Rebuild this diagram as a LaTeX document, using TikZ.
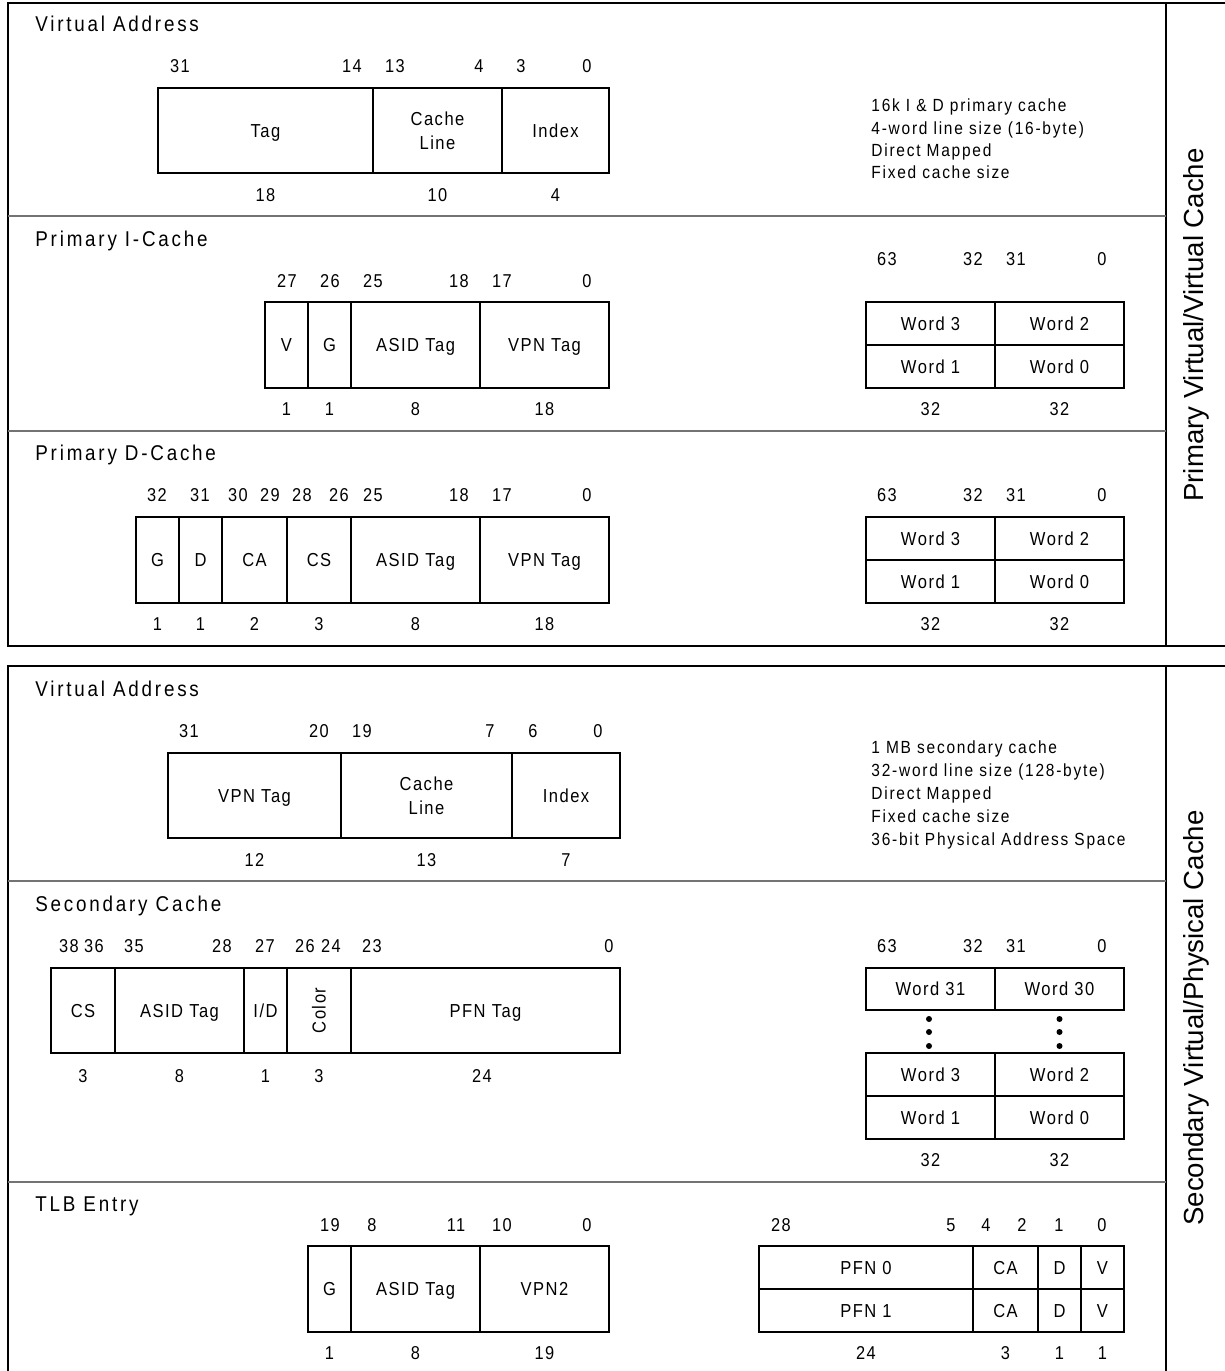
\documentclass[tikz,border=0pt]{standalone}
\usepackage{fontspec}
\setmainfont{Liberation Sans}[FakeStretch=0.88,LetterSpace=8]
\newfontfamily\titlefont{Liberation Sans}[FakeStretch=0.88,LetterSpace=13]
\newfontfamily\notefont{Liberation Sans}[FakeStretch=0.88,LetterSpace=10]
\newfontfamily\sidefont{Liberation Sans}
\newcommand\fld[7][]{%
  \draw[cell] (#3,#4) rectangle (#5,#6);
  \node[lbl,#1] (#2) at ({(#3+#5)/2},{(#4+#6)/2}) {#7};}
\newcommand\fldm[6]{%
  \draw[cell] (#2,#3) rectangle (#4,#5);
  \node[lblm] (#1) at ({(#2+#4)/2},{(#3+#5)/2}) {#6};}
\begin{document}
\begin{tikzpicture}[x=0.5pt,y=-0.5pt,
  cell/.style={draw=black,line width=0.65pt},
  frame/.style={draw=black,line width=0.8pt},
  divider/.style={draw=black!55,line width=1pt},
  lbl/.style={font=\fontsize{9.4}{12}\selectfont,inner sep=0pt,text height=6.73pt,text depth=0pt},
  lblm/.style={font=\fontsize{9.4}{12}\selectfont,inner sep=0pt,align=center},
  num/.style={font=\fontsize{9.3}{11}\selectfont,inner sep=0pt,text height=6.66pt,text depth=0pt},
  note/.style={font=\notefont\fontsize{8.8}{11}\selectfont,inner sep=0pt,anchor=west,text height=6.3pt,text depth=0pt},
  ttl/.style={font=\titlefont\fontsize{10.7}{13}\selectfont,inner sep=0pt,anchor=west,text height=7.66pt,text depth=0pt},
  side/.style={font=\sidefont\fontsize{13.8}{16}\selectfont,inner sep=0pt,rotate=90,text height=9.88pt,text depth=0pt}]
\useasboundingbox (0,0) rectangle (1225,1371);
\clip (0,0) rectangle (1225,1371);

% ---------- panel frames ----------
\draw[frame] (1240,3) -- (8,3) -- (8,646) -- (1240,646);
\draw[frame] (1166,3) -- (1166,646);
\draw[divider] (8,216) -- (1166,216);
\draw[divider] (8,431) -- (1166,431);
\draw[frame] (1240,666) -- (8,666) -- (8,1380);
\draw[frame] (1166,666) -- (1166,1380);
\draw[divider] (8,881) -- (1166,881);
\draw[divider] (8,1182) -- (1166,1182);

\node[side] (sideA) at (1194,325) {Primary Virtual/Virtual Cache};
\node[side] (sideB) at (1194,1018) {Secondary Virtual/Physical Cache};

% ---------- Virtual Address (primary) ----------
\node[ttl] (tVA1) at (35,23.5) {Virtual Address};
\foreach \x/\t [count=\i] in {180/31,352/14,395/13,479/4,521/3,587/0}
  \node[num] (vaAb\i) at (\x,66) {\t};
\fld{vaAtag}{158}{88}{373}{173}{Tag}
\fldm{vaAline}{373}{88}{502}{173}{Cache\\Line}
\fld{vaAidx}{502}{88}{609}{173}{Index}
\foreach \x/\t [count=\i] in {265.5/18,437.5/10,555.5/4}
  \node[num] (vaAw\i) at (\x,195) {\t};
\node[note] (nA1) at (871,105) {16k I \& D primary cache};
\node[note] (nA2) at (871,128) {4-word line size (16-byte)};
\node[note] (nA3) at (871,150) {Direct Mapped};
\node[note] (nA4) at (871,172) {Fixed cache size};

% ---------- Primary I-Cache ----------
\node[ttl] (tIC) at (35,238.5) {Primary I-Cache};
\foreach \x/\t [count=\i] in {287/27,330/26,373/25,459/18,502/17,587/0}
  \node[num] (icb\i) at (\x,281) {\t};
\fld{icV}{265}{302}{308}{388}{V}
\fld{icG}{308}{302}{351}{388}{G}
\fld{icAsid}{351}{302}{480}{388}{ASID Tag}
\fld{icVpn}{480}{302}{609}{388}{VPN Tag}
\foreach \x/\t [count=\i] in {286.5/1,329.5/1,415.5/8,544.5/18}
  \node[num] (icw\i) at (\x,409) {\t};
\foreach \x/\t [count=\i] in {887/63,973/32,1016/31,1102/0}
  \node[num] (icdb\i) at (\x,259) {\t};
\fld{icW3}{866}{302}{995}{345}{Word 3}
\fld{icW2}{995}{302}{1124}{345}{Word 2}
\fld{icW1}{866}{345}{995}{388}{Word 1}
\fld{icW0}{995}{345}{1124}{388}{Word 0}
\foreach \x/\t [count=\i] in {930.5/32,1059.5/32}
  \node[num] (icdw\i) at (\x,409) {\t};

% ---------- Primary D-Cache ----------
\node[ttl] (tDC) at (35,452.5) {Primary D-Cache};
\foreach \x/\t [count=\i] in {157/32,200/31,238/30,270/29,302/28,339/26,373/25,459/18,502/17,587/0}
  \node[num] (dcb\i) at (\x,495) {\t};
\fld{dcG}{136}{517}{179}{603}{G}
\fld{dcD}{179}{517}{222}{603}{D}
\fld{dcCA}{222}{517}{287}{603}{CA}
\fld{dcCS}{287}{517}{351}{603}{CS}
\fld{dcAsid}{351}{517}{480}{603}{ASID Tag}
\fld{dcVpn}{480}{517}{609}{603}{VPN Tag}
\foreach \x/\t [count=\i] in {157.5/1,200.5/1,254.5/2,319/3,415.5/8,544.5/18}
  \node[num] (dcw\i) at (\x,624) {\t};
\foreach \x/\t [count=\i] in {887/63,973/32,1016/31,1102/0}
  \node[num] (dcdb\i) at (\x,495) {\t};
\fld{dcW3}{866}{517}{995}{560}{Word 3}
\fld{dcW2}{995}{517}{1124}{560}{Word 2}
\fld{dcW1}{866}{560}{995}{603}{Word 1}
\fld{dcW0}{995}{560}{1124}{603}{Word 0}
\foreach \x/\t [count=\i] in {930.5/32,1059.5/32}
  \node[num] (dcdw\i) at (\x,624) {\t};

% ---------- Virtual Address (secondary) ----------
\node[ttl] (tVA2) at (35,689) {Virtual Address};
\foreach \x/\t [count=\i] in {189/31,319/20,362/19,490/7,533/6,598/0}
  \node[num] (vaBb\i) at (\x,731) {\t};
\fld{vaBvpn}{168}{753}{341}{838}{VPN Tag}
\fldm{vaBline}{341}{753}{512}{838}{Cache\\Line}
\fld{vaBidx}{512}{753}{620}{838}{Index}
\foreach \x/\t [count=\i] in {254.5/12,426.5/13,566/7}
  \node[num] (vaBw\i) at (\x,860) {\t};
\node[note] (nB1) at (871,747) {1 MB secondary cache};
\node[note] (nB2) at (871,770) {32-word line size (128-byte)};
\node[note] (nB3) at (871,793) {Direct Mapped};
\node[note] (nB4) at (871,816) {Fixed cache size};
\node[note] (nB5) at (871,839) {36-bit Physical Address Space};

% ---------- Secondary Cache ----------
\node[ttl] (tSC) at (35,903.5) {Secondary Cache};
\foreach \x/\t [count=\i] in {69/38,94/36,134/35,222/28,265/27,305/26,331/24,372/23,609/0}
  \node[num] (scb\i) at (\x,946) {\t};
\fld{scCS}{51}{968}{115}{1053}{CS}
\fld{scAsid}{115}{968}{244}{1053}{ASID Tag}
\fld{scID}{244}{968}{287}{1053}{I/D}
\fld[rotate=90]{scColor}{287}{968}{351}{1053}{Color}
\fld{scPfn}{351}{968}{620}{1053}{PFN Tag}
\foreach \x/\t [count=\i] in {83/3,179.5/8,265.5/1,319/3,482/24}
  \node[num] (scw\i) at (\x,1076) {\t};
\foreach \x/\t [count=\i] in {887/63,973/32,1016/31,1102/0}
  \node[num] (scdb\i) at (\x,946) {\t};
\fld{scW31}{866}{968}{995}{1010}{Word 31}
\fld{scW30}{995}{968}{1124}{1010}{Word 30}
\foreach \y in {1019,1032,1046} {
  \fill (929,\y) circle (3);
  \fill (1059.5,\y) circle (3);
}
\fld{scW3}{866}{1053}{995}{1096}{Word 3}
\fld{scW2}{995}{1053}{1124}{1096}{Word 2}
\fld{scW1}{866}{1096}{995}{1139}{Word 1}
\fld{scW0}{995}{1096}{1124}{1139}{Word 0}
\foreach \x/\t [count=\i] in {930.5/32,1059.5/32}
  \node[num] (scdw\i) at (\x,1160) {\t};

% ---------- TLB Entry ----------
\node[ttl] (tTLB) at (35,1204) {TLB Entry};
\foreach \x/\t [count=\i] in {330/19,372/8,456/11,502/10,587/0}
  \node[num] (tlb\i) at (\x,1225) {\t};
\fld{tlG}{308}{1246}{351}{1332}{G}
\fld{tlAsid}{351}{1246}{480}{1332}{ASID Tag}
\fld{tlVpn}{480}{1246}{609}{1332}{VPN2}
\foreach \x/\t [count=\i] in {329.5/1,415.5/8,544.5/19}
  \node[num] (tlw\i) at (\x,1353) {\t};
\foreach \x/\t [count=\i] in {781/28,951/5,986/4,1022/2,1059/1,1102/0}
  \node[num] (tlrb\i) at (\x,1225) {\t};
\fld{tlPfnA}{759}{1246}{973}{1289}{PFN 0}
\fld{tlCAa}{973}{1246}{1038}{1289}{CA}
\fld{tlDa}{1038}{1246}{1081}{1289}{D}
\fld{tlVa}{1081}{1246}{1124}{1289}{V}
\fld{tlPfnB}{759}{1289}{973}{1332}{PFN 1}
\fld{tlCAb}{973}{1289}{1038}{1332}{CA}
\fld{tlDb}{1038}{1289}{1081}{1332}{D}
\fld{tlVb}{1081}{1289}{1124}{1332}{V}
\foreach \x/\t [count=\i] in {866/24,1005.5/3,1059.5/1,1102.5/1}
  \node[num] (tlrw\i) at (\x,1353) {\t};
\end{tikzpicture}
\end{document}
